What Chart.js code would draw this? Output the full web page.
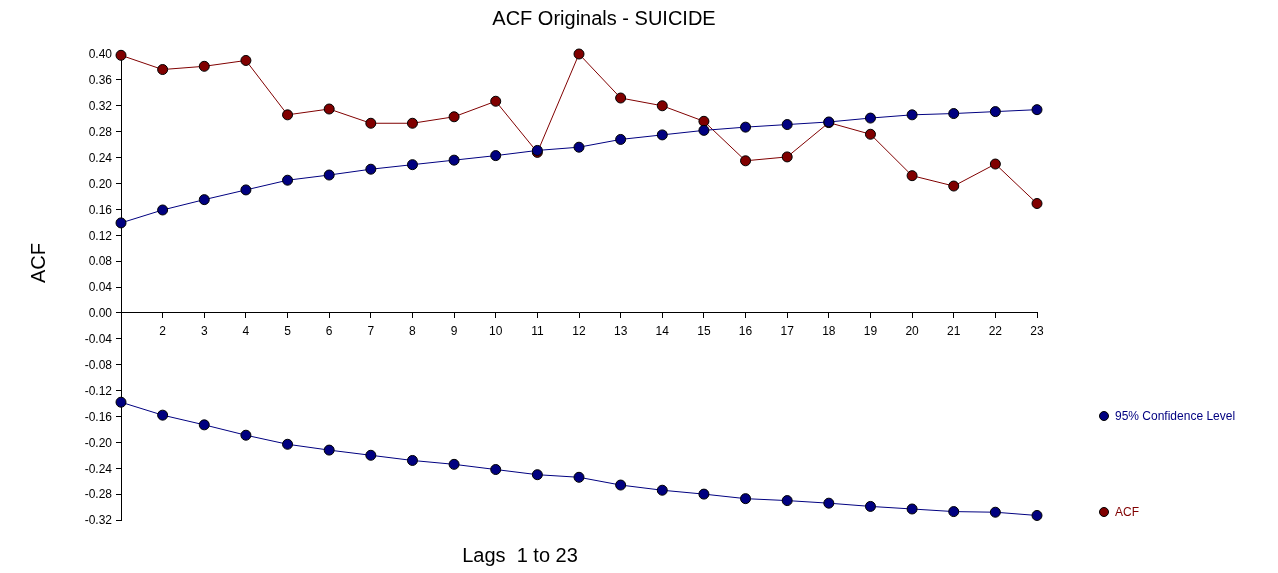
<!DOCTYPE html>
<html>
<head>
<meta charset="utf-8">
<title>ACF Originals - SUICIDE</title>
<script src="https://cdn.jsdelivr.net/npm/chart.js@4.4.1/dist/chart.umd.min.js"></script>
<style>
  html, body { margin: 0; padding: 0; background: #ffffff; }
  canvas { display: block; }
</style>
</head>
<body>
<canvas id="chart-acf" width="1278" height="573"></canvas>
<script>
// Chart text
const TITLE = 'ACF Originals - SUICIDE';
const Y_TITLE = 'ACF';
const X_TITLE = 'Lags  1 to 23';

// Lags on the x axis
const LAGS = [1, 2, 3, 4, 5, 6, 7, 8, 9, 10, 11, 12, 13, 14, 15, 16, 17, 18, 19, 20, 21, 22, 23];

// Autocorrelation values
const ACF_VALUES = [
  0.398, 0.376, 0.381, 0.390, 0.306, 0.315, 0.293, 0.293, 0.303, 0.327, 0.248, 0.400,
  0.332, 0.320, 0.296, 0.235, 0.241, 0.294, 0.276, 0.212, 0.196, 0.230, 0.169
];

// 95% confidence band (upper and lower)
const CONF_UPPER = [
  0.139, 0.159, 0.175, 0.190, 0.205, 0.213, 0.222, 0.229, 0.236, 0.243, 0.251, 0.256,
  0.268, 0.275, 0.282, 0.287, 0.291, 0.295, 0.301, 0.306, 0.308, 0.311, 0.314
];
const CONF_LOWER = [
  -0.138, -0.158, -0.173, -0.189, -0.203, -0.212, -0.220, -0.228, -0.234, -0.242, -0.250, -0.254,
  -0.266, -0.274, -0.280, -0.287, -0.290, -0.294, -0.299, -0.303, -0.307, -0.308, -0.313
];

// Y axis range
const Y_MIN = -0.32;
const Y_MAX = 0.40;
const Y_STEP = 0.04;

const COLORS = {
  conf: '#000080',
  acf: '#800000',
  ink: '#000000'
};

const FONT = '"Liberation Sans", Arial, sans-serif';

// Titles and the side legend
const textPlugin = {
  id: 'acfText',
  afterDraw(chart) {
    const ctx = chart.ctx;
    ctx.save();

    ctx.fillStyle = COLORS.ink;
    ctx.font = '20px ' + FONT;
    ctx.textAlign = 'center';
    ctx.textBaseline = 'middle';
    ctx.fillText(TITLE, 604, 19);
    ctx.fillText(X_TITLE, 520, 556);

    ctx.save();
    ctx.translate(39, 263);
    ctx.rotate(-Math.PI / 2);
    ctx.fillText(Y_TITLE, 0, 0);
    ctx.restore();

    const items = [
      { label: '95% Confidence Level', color: COLORS.conf, y: 416 },
      { label: 'ACF', color: COLORS.acf, y: 512 }
    ];
    ctx.font = '12px ' + FONT;
    ctx.textAlign = 'left';
    items.forEach(item => {
      ctx.beginPath();
      ctx.arc(1104, item.y, 4.5, 0, Math.PI * 2);
      ctx.fillStyle = item.color;
      ctx.fill();
      ctx.lineWidth = 1;
      ctx.strokeStyle = COLORS.ink;
      ctx.stroke();
      ctx.fillStyle = item.color;
      ctx.fillText(item.label, 1115, item.y + 1);
    });

    ctx.restore();
  }
};

function lineDataset(label, data, color) {
  return {
    label,
    data,
    borderColor: color,
    backgroundColor: color,
    borderWidth: 1,
    pointRadius: 5,
    pointBorderWidth: 1,
    pointBorderColor: COLORS.ink,
    pointBackgroundColor: color,
    pointHoverRadius: 5,
    tension: 0,
    clip: false
  };
}

new Chart(document.getElementById('chart-acf').getContext('2d'), {
  type: 'line',
  data: {
    labels: LAGS,
    datasets: [
      lineDataset('95% Confidence Level', CONF_UPPER, COLORS.conf),
      lineDataset('95% Confidence Level (lower)', CONF_LOWER, COLORS.conf),
      lineDataset('ACF', ACF_VALUES, COLORS.acf)
    ]
  },
  options: {
    responsive: false,
    animation: false,
    devicePixelRatio: 1,
    layout: {
      padding: { left: 0, right: 241, top: 54, bottom: 53 }
    },
    plugins: {
      legend: { display: false },
      title: { display: false },
      tooltip: { enabled: false }
    },
    scales: {
      x: {
        type: 'category',
        position: { y: 0 },
        offset: false,
        grid: {
          drawOnChartArea: false,
          drawTicks: true,
          tickLength: 5,
          color: COLORS.ink
        },
        border: { display: true, color: COLORS.ink, width: 1 },
        ticks: {
          autoSkip: false,
          maxRotation: 0,
          padding: 7,
          color: COLORS.ink,
          font: { family: FONT, size: 12 },
          callback: (value, index) => index === 0 ? '' : LAGS[index]
        }
      },
      y: {
        position: 'left',
        min: Y_MIN,
        max: Y_MAX,
        afterFit: scale => { scale.width = 121; },
        grid: {
          drawOnChartArea: false,
          drawTicks: true,
          tickLength: 5,
          color: COLORS.ink
        },
        border: { display: true, color: COLORS.ink, width: 1 },
        ticks: {
          stepSize: Y_STEP,
          padding: 4,
          labelOffset: 1,
          color: COLORS.ink,
          font: { family: FONT, size: 12 },
          callback: value => (Math.abs(value) < 1e-9 ? 0 : value).toFixed(2)
        }
      }
    }
  },
  plugins: [textPlugin]
});
</script>
</body>
</html>
